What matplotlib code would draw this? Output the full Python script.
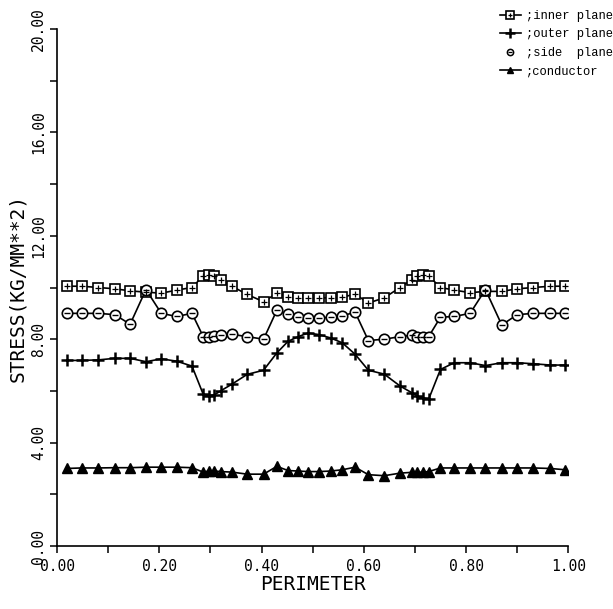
#!/usr/bin/env python
"""Stress distribution along the conductor perimeter for each plane."""

import matplotlib
matplotlib.use("Agg")
import matplotlib.pyplot as plt
from matplotlib.lines import Line2D
from matplotlib.ticker import MultipleLocator
from matplotlib.legend_handler import HandlerTuple

# normalised position along the perimeter (shared by all four curves)
PERIMETER = [0.019, 0.048, 0.081, 0.113, 0.143, 0.174, 0.204, 0.234, 0.264, 0.286,
             0.297, 0.308, 0.320, 0.342, 0.372, 0.404, 0.430, 0.452, 0.472, 0.491,
             0.512, 0.535, 0.558, 0.583, 0.609, 0.640, 0.671, 0.694, 0.705, 0.716,
             0.727, 0.750, 0.777, 0.808, 0.838, 0.870, 0.900, 0.932, 0.965, 0.994]

INNER = [10.05, 10.05, 10.00, 9.95, 9.87, 9.82, 9.78, 9.90, 10.00, 10.45,
         10.50, 10.45, 10.30, 10.05, 9.73, 9.45, 9.78, 9.65, 9.60, 9.60,
         9.60, 9.60, 9.62, 9.75, 9.40, 9.60, 10.00, 10.30, 10.45, 10.50,
         10.45, 10.00, 9.90, 9.80, 9.85, 9.85, 9.95, 10.00, 10.05, 10.05]

OUTER = [7.18, 7.18, 7.20, 7.26, 7.26, 7.13, 7.24, 7.15, 6.96, 5.87,
         5.82, 5.85, 6.00, 6.26, 6.64, 6.80, 7.47, 7.92, 8.10, 8.24,
         8.18, 8.05, 7.86, 7.42, 6.80, 6.65, 6.19, 5.93, 5.80, 5.73,
         5.68, 6.83, 7.09, 7.09, 6.98, 7.09, 7.09, 7.05, 7.00, 7.00]

SIDE = [9.00, 9.00, 9.00, 8.95, 8.58, 9.92, 9.00, 8.88, 9.00, 8.10,
        8.10, 8.12, 8.15, 8.19, 8.10, 8.00, 9.12, 8.96, 8.85, 8.82,
        8.82, 8.85, 8.90, 9.05, 7.95, 8.00, 8.10, 8.15, 8.10, 8.10,
        8.10, 8.85, 8.88, 9.00, 9.92, 8.55, 8.95, 9.00, 9.00, 9.00]

CONDUCTOR = [3.00, 3.02, 3.02, 3.03, 3.03, 3.05, 3.05, 3.05, 3.03, 2.86,
             2.90, 2.90, 2.88, 2.86, 2.78, 2.78, 3.08, 2.92, 2.90, 2.88,
             2.88, 2.90, 2.95, 3.05, 2.76, 2.72, 2.82, 2.85, 2.85, 2.86,
             2.88, 3.02, 3.02, 3.02, 3.02, 3.02, 3.02, 3.02, 3.00, 2.95]

LABELS = [";inner plane", ";outer plane", ";side  plane", ";conductor"]
X_TICKS = [0.0, 0.2, 0.4, 0.6, 0.8, 1.0]
Y_TICKS = [0, 4, 8, 12, 16, 20]

TICK_FONT = {"family": "DejaVu Sans Mono", "size": 10.5}
LABEL_FONT = {"family": "DejaVu Sans Mono", "size": 14}


def main():
    fig = plt.figure(figsize=(6.13, 6.09), dpi=100)
    ax = fig.add_axes([0.093, 0.1034, 0.834, 0.849])

    lw = 1.2
    inner, = ax.plot(PERIMETER, INNER, "-", color="k", lw=lw, marker="s", ms=7,
                     mfc="white", mec="k", mew=1.2, zorder=3)
    inner_x, = ax.plot(PERIMETER, INNER, ls="none", marker="+", ms=4.5,
                       color="k", mew=0.9, zorder=4)
    side, = ax.plot(PERIMETER, SIDE, "-", color="k", lw=lw, marker="o", ms=7.5,
                    mfc="white", mec="k", mew=1.2, zorder=3)
    side_x, = ax.plot(PERIMETER, SIDE, ls="none", marker="_", ms=4,
                      color="k", mew=1.0, zorder=4)
    outer, = ax.plot(PERIMETER, OUTER, "-", color="k", lw=lw, marker="+", ms=9,
                     mew=1.8, zorder=3)
    cond, = ax.plot(PERIMETER, CONDUCTOR, "-", color="k", lw=lw, marker="^", ms=6.5,
                    mfc="k", mec="k", zorder=3)

    ax.set_xlim(0, 1.0)
    ax.set_ylim(0, 20)
    for s in ("top", "right"):
        ax.spines[s].set_visible(False)
    for s in ("left", "bottom"):
        ax.spines[s].set_linewidth(1.2)

    ax.set_xticks(X_TICKS)
    ax.set_xticklabels([f"{v:.2f}" for v in X_TICKS], fontdict=TICK_FONT)
    ax.xaxis.set_minor_locator(MultipleLocator(0.1))
    ax.set_yticks(Y_TICKS)
    ax.set_yticklabels([f"{v:.2f}" for v in Y_TICKS], fontdict=TICK_FONT,
                       rotation=90, va="center")
    ax.yaxis.set_minor_locator(MultipleLocator(2))
    ax.tick_params(which="both", direction="out", length=5, width=1.1)
    ax.tick_params(axis="x", pad=4)
    ax.tick_params(axis="y", pad=3)

    ax.set_xlabel("PERIMETER", fontdict=LABEL_FONT, labelpad=1)
    ax.set_ylabel("STRESS(KG/MM**2)", fontdict=LABEL_FONT, labelpad=3)

    # legend symbols sit above the plot area, top right
    side_key = Line2D([], [], ls="none", marker="o", ms=6, mfc="white", mec="k", mew=1.1)
    side_key_x = Line2D([], [], ls="none", marker="_", ms=3, color="k", mew=0.9)
    handles = [(inner, inner_x), outer, (side_key, side_key_x), cond]
    fig.legend(handles, LABELS, loc="upper left", bbox_to_anchor=(0.815, 0.984),
               frameon=False, prop={"family": "Liberation Mono", "size": 8.7},
               handlelength=1.8, handletextpad=0.35, labelspacing=0.55,
               borderpad=0, borderaxespad=0, markerscale=0.75,
               handler_map={tuple: HandlerTuple(ndivide=1)})

    fig.savefig("out.png", dpi=100, facecolor="white")
    plt.close(fig)


if __name__ == "__main__":
    main()
